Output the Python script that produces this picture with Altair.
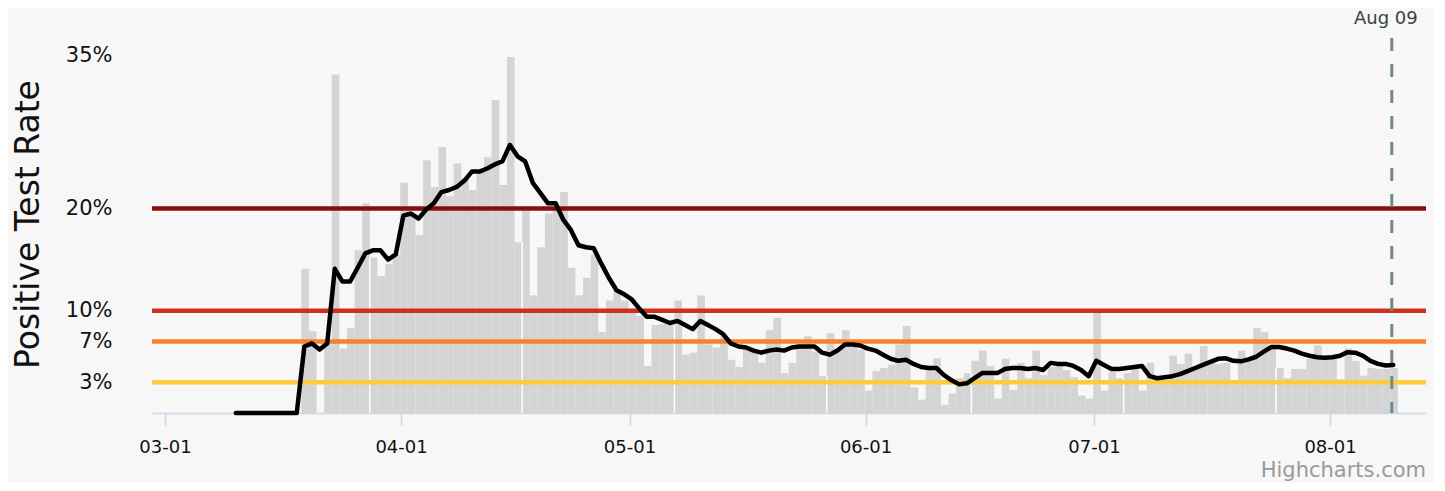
import altair as alt
import pandas as pd

# ---------------- data ----------------
bar_first_day = "2020-03-19"
bar_values = [
    14.1, 8.0, 0, 7.0, 33.1, 6.3, 8.3, 15.9, 20.5, 15.2,
    13.4, 14.6, 15.5, 22.5, 19.5, 17.4, 24.7, 22.1, 26.0, 21.2,
    24.4, 23.0, 21.8, 23.6, 25.0, 30.6, 22.3, 34.8, 16.7, 19.8,
    11.5, 16.2, 19.5, 20.0, 21.6, 14.2, 11.5, 13.2, 15.5, 7.9,
    11.0, 12.0, 11.0, 9.8, 9.5, 4.6, 8.6, 8.7, 8.6, 11.0,
    5.7, 5.9, 11.5, 6.7, 6.4, 7.5, 5.2, 4.5, 6.2, 6.0,
    4.9, 8.1, 9.3, 3.9, 4.9, 6.7, 7.5, 6.0, 3.6, 7.8,
    6.2, 8.1, 6.5, 6.2, 2.2, 4.1, 4.4, 4.7, 6.7, 8.5,
    2.5, 1.3, 4.3, 5.35, 0.8, 1.9, 3.4, 3.9, 5.1, 6.1,
    4.6, 1.4, 5.3, 2.25, 4.9, 3.4, 6.1, 3.7, 4.5, 4.6,
    4.2, 3.5, 1.7, 1.4, 9.8, 2.2, 4.0, 3.4, 3.9, 4.6,
    2.2, 4.9, 3.3, 3.2, 5.6, 4.8, 5.8, 4.5, 6.55, 4.9,
    4.8, 4.9, 3.2, 6.1, 5.2, 8.3, 7.9, 6.3, 4.4, 3.4,
    4.3, 4.3, 5.3, 6.6, 5.3, 5.3, 3.3, 6.3, 5.1, 3.65,
    4.4, 4.3, 4.3, 4.4,
]

line_first_day = "2020-03-10"
line_values = [
    0, 0, 0, 0, 0, 0, 0, 0, 0,
    6.5, 6.8, 6.2, 6.8, 14.1, 12.85, 12.85, 14.2, 15.6, 15.9,
    15.9, 15.0, 15.5, 19.3, 19.5, 19.0, 19.9, 20.5, 21.6, 21.8,
    22.1, 22.7, 23.6, 23.6, 23.9, 24.3, 24.6, 26.2, 25.1, 24.6,
    22.5, 21.5, 20.5, 20.5, 18.9, 17.9, 16.4, 16.2, 16.1, 14.6,
    13.2, 12.0, 11.6, 11.1, 10.2, 9.4, 9.4, 9.1, 8.8, 9.0,
    8.6, 8.2, 9.0, 8.6, 8.2, 7.7, 6.8, 6.5, 6.4, 6.1,
    5.9, 6.1, 6.2, 6.1, 6.4, 6.5, 6.5, 6.5, 5.9, 5.7,
    6.1, 6.7, 6.7, 6.6, 6.3, 6.1, 5.7, 5.3, 5.1, 5.2,
    4.8, 4.5, 4.4, 4.4, 3.7, 3.2, 2.8, 2.9, 3.4, 3.9,
    3.9, 3.9, 4.3, 4.4, 4.4, 4.3, 4.4, 4.2, 4.9, 4.8,
    4.8, 4.6, 4.2, 3.6, 5.1, 4.7, 4.3, 4.3, 4.4, 4.5,
    4.6, 3.6, 3.4, 3.5, 3.6, 3.8, 4.1, 4.4, 4.7, 5.0,
    5.3, 5.35, 5.1, 5.05, 5.25, 5.5, 6.0, 6.45, 6.45, 6.3,
    6.1, 5.8, 5.6, 5.45, 5.4, 5.45, 5.6, 5.95, 5.9, 5.6,
    5.1, 4.8, 4.65, 4.7,
]

threshold_values = [3, 7, 10, 20]
threshold_colors = ["#fecb3c", "#fc7f29", "#d12f1d", "#8a0c0c"]

y_tick_values = [3, 7, 10, 20, 35]
month_ticks = [3, 4, 5, 6, 7, 8]

marker_day = "2020-08-09"
marker_label = "Aug 09"
credit_text = "Highcharts.com"

# thin white seams that appear between some adjacent columns
seam_days = ["2020-03-28", "2020-04-17", "2020-05-07", "2020-05-27",
             "2020-06-15", "2020-07-05", "2020-07-25"]

# ---------------- tables ----------------
FMT = "%Y-%m-%dT%H:%M:%S"
bar_dates = pd.date_range(bar_first_day, periods=len(bar_values), freq="D")
bars = pd.DataFrame({
    "start": (bar_dates - pd.Timedelta(hours=2.4)).strftime(FMT),
    "end": (bar_dates + pd.Timedelta(hours=21.6)).strftime(FMT),
    "rate": bar_values,
    "base": 0,
})

line_dates = pd.date_range(line_first_day, periods=len(line_values), freq="D")
line = pd.DataFrame({
    "t": (line_dates + pd.Timedelta(hours=7.2)).strftime(FMT),
    "rate": line_values,
})

bar_lookup = dict(zip(bar_dates.strftime("%Y-%m-%d"), bar_values))
seam_rows = []
for d in seam_days:
    prev = (pd.Timestamp(d) - pd.Timedelta(days=1)).strftime("%Y-%m-%d")
    seam_rows.append({
        "t": (pd.Timestamp(d) - pd.Timedelta(hours=2.4)).strftime(FMT),
        "top": min(bar_lookup[d], bar_lookup[prev]),
        "base": 0,
    })
seams = pd.DataFrame(seam_rows)

thresholds = pd.DataFrame({"v": threshold_values, "c": threshold_colors})
marker = pd.DataFrame({
    "t": [(pd.Timestamp(marker_day) + pd.Timedelta(hours=2.6)).strftime(FMT)],
    "label": [marker_label],
})
credit = pd.DataFrame({"label": [credit_text]})

# ---------------- scales / axes ----------------
FONT = "DejaVu Sans"
PLOT_W, PLOT_H = 1274, 358
x_scale = alt.Scale(domain=[alt.DateTime(year=2020, month=2, date=28, hours=7),
                            alt.DateTime(year=2020, month=8, date=13, hours=14, minutes=24)])
y_scale = alt.Scale(domain=[0, 35], nice=False)

x_axis = alt.Axis(
    values=[alt.DateTime(year=2020, month=m, date=1) for m in month_ticks],
    format="%m-%d", title=None, grid=False,
    domainColor="#ccd6eb", domainWidth=1.5, tickColor="#ccd6eb", tickWidth=1.5,
    tickSize=12, labelPadding=13, labelFont=FONT, labelFontSize=18,
    labelColor="#111111",
)
y_axis = alt.Axis(
    values=y_tick_values, labelExpr="datum.value + '%'",
    title="Positive Test Rate", grid=False, domain=False, ticks=False,
    labelPadding=40, labelFont=FONT, labelFontSize=21, labelColor="#111111",
    titleFont=FONT, titleFontSize=33, titleFontWeight="normal", titleColor="#111111",
    titleX=-124, titleY=169, titleAngle=270, titleAlign="center", titleBaseline="middle",
)

bar_layer = alt.Chart(bars).mark_rect(color="#d4d4d4").encode(
    x=alt.X("start:T", scale=x_scale, axis=x_axis),
    x2="end:T",
    y=alt.Y("rate:Q", scale=y_scale, axis=y_axis),
    y2="base:Q",
)

seam_layer = alt.Chart(seams).mark_rule(color="white", strokeWidth=1.5).encode(
    x="t:T", y="top:Q", y2="base:Q",
)

threshold_layer = alt.Chart(thresholds).mark_rule(strokeWidth=4.5).encode(
    y="v:Q", color=alt.Color("c:N", scale=None),
)

marker_rule = alt.Chart(marker).mark_rule(
    color="#6e8a91", strokeWidth=3, strokeDash=[13, 13]
).encode(x="t:T", y=alt.datum(36.66), y2=alt.datum(0))

marker_text = alt.Chart(marker).mark_text(
    font=FONT, fontSize=18, fontWeight="normal", color="#3b4246", dx=-6
).encode(x="t:T", y=alt.datum(38.5), text="label:N")

line_layer = alt.Chart(line).mark_line(
    color="black", strokeWidth=4.5, strokeJoin="round", strokeCap="round"
).encode(x="t:T", y="rate:Q")

credit_layer = alt.Chart(credit).mark_text(
    font=FONT, fontSize=21, color="#9a9a9a", align="right", baseline="alphabetic"
).encode(x=alt.value(PLOT_W), y=alt.value(PLOT_H + 64), text="label:N")

chart = alt.layer(
    bar_layer, seam_layer, threshold_layer, marker_rule, line_layer,
    marker_text, credit_layer
).properties(
    width=PLOT_W, height=PLOT_H,
    autosize=alt.AutoSizeParams(type="none"),
    padding={"left": 144, "top": 47, "right": 8, "bottom": 70},
).configure(
    background="#f7f7f7",
).configure_view(stroke=None)

chart.save("out.html", embed_options={"renderer": "svg", "actions": False})
